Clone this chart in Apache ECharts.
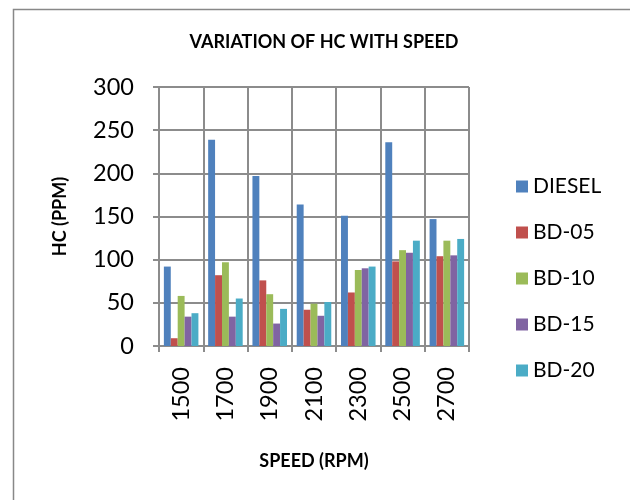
<!DOCTYPE html>
<html><head><meta charset="utf-8">
<script src="https://cdn.jsdelivr.net/npm/echarts@6/dist/echarts.min.js"></script>
<style>html,body{margin:0;padding:0;background:#fff}#c{width:630px;height:500px}</style>
</head><body><div id="c"></div>
<script>
const categories = ['1500','1700','1900','2100','2300','2500','2700'];
const seriesNames = ['DIESEL','BD-05','BD-10','BD-15','BD-20'];
const diesel = [92, 239, 197, 164, 151, 236, 147];
const bd05 = [9, 82, 76, 42, 62, 98, 104];
const bd10 = [58, 97, 60, 49, 88, 111, 122];
const bd15 = [34, 34, 26, 35, 90, 108, 105];
const bd20 = [38, 55, 43, 51, 92, 122, 124];
const yTicks = [0, 50, 100, 150, 200, 250, 300];
const colors = ['#4F81BD','#C0504D','#9BBB59','#8064A2','#4BACC6'];
const allData = [diesel, bd05, bd10, bd15, bd20];
const FONT = 'Lato, "Open Sans", sans-serif';
const gridColor = '#8c8c8c';

const chart = echarts.init(document.getElementById('c'));
chart.setOption({
  animation: false,
  color: colors,
  textStyle: { fontFamily: FONT },
  title: {
    text: 'VARIATION OF HC WITH SPEED',
    left: 319, top: 28, textAlign: 'center',
    textStyle: { fontFamily: FONT, fontSize: 18, fontWeight: 'bold', color: '#000' }
  },
  graphic: [{
    type: 'rect', shape: { x: 13.5, y: 9.5, width: 640, height: 520 },
    style: { fill: 'none', stroke: '#888', lineWidth: 1.5 }, silent: true, z: -1
  }],
  legend: {
    orient: 'vertical', left: 511, top: 171,
    itemWidth: 12, itemHeight: 12, itemGap: 25,
    icon: 'rect',
    textStyle: { fontFamily: FONT, fontSize: 21, color: '#000' },
    data: seriesNames
  },
  grid: { left: 159, right: 161, top: 87, bottom: 154, containLabel: false },
  xAxis: {
    type: 'category', data: categories,
    name: 'SPEED (RPM)', nameLocation: 'middle', nameGap: 106,
    nameTextStyle: { fontFamily: FONT, fontSize: 18, fontWeight: 'bold', color: '#000' },
    axisLine: { show: true, lineStyle: { color: gridColor, width: 2 } },
    axisTick: { show: true, length: 6, lineStyle: { color: gridColor, width: 2 } },
    splitLine: { show: true, lineStyle: { color: gridColor, width: 2 } },
    axisLabel: { rotate: 90, margin: 21, fontFamily: FONT, fontSize: 23.5, color: '#000' }
  },
  yAxis: {
    type: 'value', min: yTicks[0], max: yTicks[yTicks.length - 1], interval: 50,
    name: 'HC (PPM)', nameLocation: 'middle', nameGap: 90,
    nameTextStyle: { fontFamily: FONT, fontSize: 18, fontWeight: 'bold', color: '#000' },
    axisLine: { show: true, lineStyle: { color: gridColor, width: 2 } },
    axisTick: { show: true, length: 6, lineStyle: { color: gridColor, width: 2 } },
    splitLine: { show: true, lineStyle: { color: gridColor, width: 2 } },
    axisLabel: { margin: 25, fontFamily: FONT, fontSize: 23.5, color: '#000' }
  },
  series: seriesNames.map((n, i) => ({
    name: n, type: 'bar', data: allData[i],
    barGap: '0%', barCategoryGap: '22%',
    itemStyle: { color: colors[i] }
  }))
});
</script></body></html>
